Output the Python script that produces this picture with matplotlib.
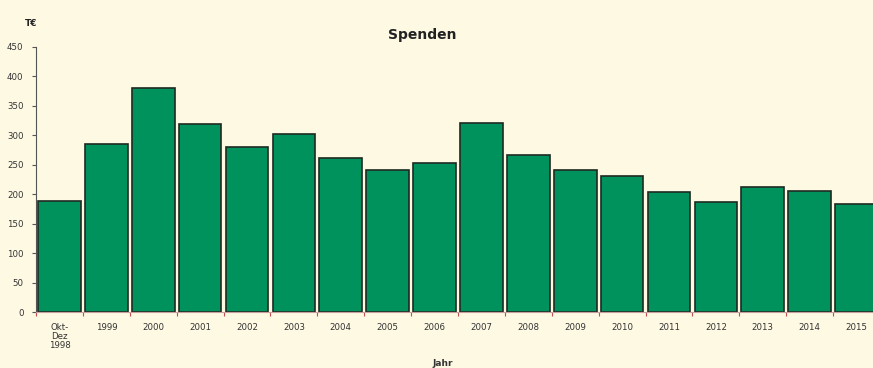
import numpy as np
import matplotlib.pyplot as plt

categories = ['Okt-\nDez\n1998', '1999', '2000', '2001', '2002', '2003', '2004', '2005', '2006',
              '2007', '2008', '2009', '2010', '2011', '2012', '2013', '2014', '2015']
spenden = [189, 286, 381, 320, 281, 303, 261, 241, 253, 321, 267, 241, 231, 203, 186, 213, 205, 183]
yticks = [0, 50, 100, 150, 200, 250, 300, 350, 400, 450]

bg = '#fdf9e3'
fig = plt.figure(figsize=(8.73, 3.68), dpi=100, facecolor=bg)
ax = fig.add_axes([36 / 873, 56 / 368, 844 / 873, 265 / 368], facecolor=bg)

x = np.arange(len(categories))
ax.bar(x, spenden, width=0.91, color='#00925c', edgecolor='#1e2a22', linewidth=1.2, zorder=2)

ax.set_xlim(-0.5, len(categories) - 0.5)
ax.set_ylim(0, 450)
ax.set_yticks(yticks)
ax.tick_params(axis='y', labelsize=6.2, length=3, width=0.8, color='#555555', pad=6, labelcolor='#333333')

# category labels centred under bars, ticks between bars
ax.set_xticks(x)
ax.set_xticklabels(categories, fontsize=6.2, color='#333333', linespacing=1.0, va='top')
ax.tick_params(axis='x', length=0, pad=8)
ax.set_xticks(np.arange(len(categories) + 1) - 0.5, minor=True)
ax.tick_params(axis='x', which='minor', length=3, width=0.8, color='#c05050')

for s in ['top', 'right']:
    ax.spines[s].set_visible(False)
ax.spines['left'].set_color('#555555')
ax.spines['bottom'].set_color('#c8a0a0')

fig.text(422 / 873, 1 - 35 / 368, 'Spenden', ha='center', va='center', fontsize=10, fontweight='bold', color='#222222')
fig.text(31 / 873, 1 - 23 / 368, 'T€', ha='center', va='center', fontsize=6.5, fontweight='bold', color='#222222')
fig.text(443 / 873, 1 - 364 / 368, 'Jahr', ha='center', va='center', fontsize=6.5, fontweight='bold', color='#333333')

fig.savefig('out.png', dpi=100, facecolor=bg)
